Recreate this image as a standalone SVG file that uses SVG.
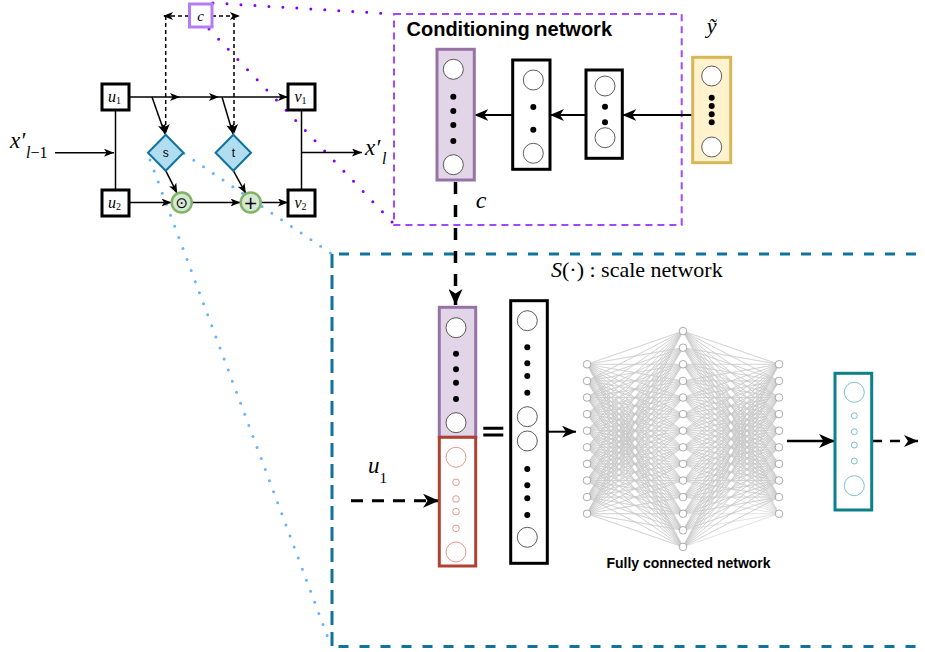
<svg xmlns="http://www.w3.org/2000/svg" width="925" height="652" viewBox="0 0 925 652">
<defs>
<marker id="a1" markerUnits="userSpaceOnUse" viewBox="0 0 10 8" markerWidth="10" markerHeight="8" refX="10" refY="4" orient="auto"><path d="M0 0L10 4L0 8L2.5 4z" fill="#000"/></marker>
<marker id="a2" markerUnits="userSpaceOnUse" viewBox="0 0 14 12" markerWidth="14" markerHeight="12" refX="14" refY="6" orient="auto"><path d="M0 0L14 6L0 12L4 6z" fill="#000"/></marker>
<marker id="a3" markerUnits="userSpaceOnUse" viewBox="0 0 16 14" markerWidth="16" markerHeight="14" refX="16" refY="7" orient="auto"><path d="M0 0L16 7L0 14L4.5 7z" fill="#000"/></marker>
<circle id="fn" r="3.8" fill="#fff" stroke="#8a8a8a" stroke-width="0.7"/>
</defs>
<style>
.box{fill:#fff;stroke:#000;stroke-width:3}
.ln{fill:none;stroke:#000;stroke-width:1.5}
.dl{fill:none;stroke:#000;stroke-width:1.5;stroke-dasharray:4 3}
.m{font-family:"Liberation Serif","DejaVu Serif",serif;font-style:italic}
.r{font-family:"Liberation Serif","DejaVu Serif",serif}
.b{font-family:"Liberation Sans",Arial,sans-serif;font-weight:bold}
.sn{font-family:"Liberation Sans",Arial,sans-serif;font-weight:normal}
.nc{fill:#fff;stroke:#333;stroke-width:0.8}
.dot{fill:#000}
.pd{fill:none;stroke:#7f00ff;stroke-width:3;stroke-linecap:round;stroke-dasharray:0 14}
.bd{fill:none;stroke:#66b2ff;stroke-width:3;stroke-linecap:round;stroke-dasharray:0 11.8}
.ar{fill:none;stroke:#000;stroke-width:2}
</style>
<rect width="925" height="652" fill="#fff"/>

<!-- scale network frame -->
<g id="scale-network-frame">
<path d="M332 940V254H935M332 254V646.5H935" fill="none" stroke="#10739e" stroke-width="3" stroke-dasharray="10 11"/>
<text x="551" y="277" class="r" font-size="22"><tspan font-style="italic">S</tspan>(·) : scale network</text>
</g>

<!-- conditioning network frame -->
<g id="conditioning-network-frame">
<rect x="394" y="14" width="287.7" height="211" fill="none" stroke="#a347ff" stroke-width="2" stroke-dasharray="7 5"/>
<text x="406.5" y="36" class="b" font-size="20">Conditioning network</text>
</g>

<!-- zoom guide lines -->
<g id="guides">
<path class="bd" d="M150 160L331 646"/>
<path class="bd" d="M184 153.5L332 254"/>
<path class="pd" d="M213 3L394 14"/>
<path class="pd" d="M209 29L394 224"/>
</g>

<!-- connectors -->
<g id="connectors">
<path class="ln" d="M55 152.7H114" marker-end="url(#a1)"/>
<path class="ln" d="M115.5 110V190"/>
<path class="ln" d="M301.5 110V190"/>
<path class="ln" d="M301.5 152.5H362" marker-end="url(#a1)"/>
<path class="ln" d="M129 97H180" marker-end="url(#a1)"/>
<path class="ln" d="M180 97H219" marker-end="url(#a1)"/>
<path class="ln" d="M219 97H288" marker-end="url(#a1)"/>
<path class="ln" d="M152 97L165 134" marker-end="url(#a1)"/>
<path class="ln" d="M222 97L233 134" marker-end="url(#a1)"/>
<path class="dl" d="M189 16H163" marker-end="url(#a1)"/>
<path class="dl" d="M212 16H240" marker-end="url(#a1)"/>
<path class="dl" d="M165.7 16V134" marker-end="url(#a1)"/>
<path class="dl" d="M234 16V134" marker-end="url(#a1)"/>
<path class="ln" d="M165.7 170.7L177.2 193.4" marker-end="url(#a1)"/>
<path class="ln" d="M233.3 170.7L245.9 193.5" marker-end="url(#a1)"/>
<path class="ln" d="M129 202.5H171.5" marker-end="url(#a1)"/>
<path class="ln" d="M191.7 202.5H240.5" marker-end="url(#a1)"/>
<path class="ln" d="M260.7 202.5H288" marker-end="url(#a1)"/>
<path class="ar" d="M692.7 115H622.3" marker-end="url(#a2)"/>
<path class="ar" d="M586 115H550" marker-end="url(#a2)"/>
<path class="ar" d="M512.7 115H474.3" marker-end="url(#a2)"/>
<path d="M455.5 182V305" fill="none" stroke="#000" stroke-width="3.5" stroke-dasharray="12 11" marker-end="url(#a3)"/>
<path d="M351 500.7H439" fill="none" stroke="#000" stroke-width="3" stroke-dasharray="12 9" marker-end="url(#a3)"/>
<path class="ar" d="M547.3 431.7H576" marker-end="url(#a2)"/>
<path d="M787 441H835" fill="none" stroke="#000" stroke-width="2.5" marker-end="url(#a3)"/>
<path d="M872 441H918" fill="none" stroke="#000" stroke-width="2.5" stroke-dasharray="10 8" marker-end="url(#a2)"/>
</g>

<!-- coupling block nodes -->
<g id="c-box">
<rect x="189.5" y="4" width="22.5" height="23" fill="#fff" stroke="#b57cf7" stroke-width="3"/>
<text x="200.7" y="20.5" class="m" font-size="15" text-anchor="middle">c</text>
</g>
<g id="u1">
<rect class="box" x="102" y="84" width="27" height="26"/>
<text x="114.5" y="101.5" class="m" font-size="16" text-anchor="middle">u<tspan font-style="normal" font-size="10" dy="2">1</tspan></text>
</g>
<g id="u2">
<rect class="box" x="102" y="190" width="27" height="26"/>
<text x="114.5" y="207.5" class="m" font-size="16" text-anchor="middle">u<tspan font-style="normal" font-size="10" dy="2">2</tspan></text>
</g>
<g id="v1">
<rect class="box" x="288" y="84" width="27" height="26"/>
<text x="300.5" y="101.5" class="m" font-size="16" text-anchor="middle">v<tspan font-style="normal" font-size="10" dy="2">1</tspan></text>
</g>
<g id="v2">
<rect class="box" x="288" y="190" width="27" height="26"/>
<text x="300.5" y="207.5" class="m" font-size="16" text-anchor="middle">v<tspan font-style="normal" font-size="10" dy="2">2</tspan></text>
</g>
<g id="s">
<path d="M165.7 134.7L183.4 152.7L165.7 170.7L148 152.7z" fill="#b1ddf0" stroke="#10739e" stroke-width="2"/>
<text x="165.7" y="157" class="sn" font-size="12" text-anchor="middle">s</text>
</g>
<g id="t">
<path d="M233.3 134.7L251 152.7L233.3 170.7L215.6 152.7z" fill="#b1ddf0" stroke="#10739e" stroke-width="2"/>
<text x="233.3" y="157" class="sn" font-size="12" text-anchor="middle">t</text>
</g>
<g id="odot">
<circle cx="181.7" cy="202.5" r="10" fill="#d5e8d4" stroke="#82b366" stroke-width="2.5"/>
<text x="181.7" y="208" font-family="DejaVu Sans,sans-serif" font-size="15" text-anchor="middle">⊙</text>
</g>
<g id="oplus">
<circle cx="250.7" cy="202.5" r="10" fill="#d5e8d4" stroke="#82b366" stroke-width="2.5"/>
<text x="250.7" y="208.5" font-family="DejaVu Sans,sans-serif" font-size="17" text-anchor="middle">+</text>
</g>
<g id="x-in">
<text x="10" y="148" class="m" font-size="23">x′</text>
<text x="26" y="158" class="m" font-size="16">l<tspan font-style="normal">−1</tspan></text>
</g>
<g id="x-out">
<text x="365" y="155" class="m" font-size="23">x′</text>
<text x="382" y="164" class="m" font-size="16">l</text>
</g>

<!-- conditioning network columns -->
<g id="cond-c">
<rect x="437" y="49.3" width="37.3" height="130.7" fill="#e1d5e7" stroke="#9673a6" stroke-width="3"/>
<circle class="nc" cx="453.3" cy="69.3" r="10"/>
<circle class="nc" cx="453.3" cy="164.7" r="10"/>
<circle class="dot" cx="453.3" cy="96.7" r="3"/>
<circle class="dot" cx="453.3" cy="111" r="3"/>
<circle class="dot" cx="453.3" cy="125" r="3"/>
<circle class="dot" cx="453.3" cy="141" r="3"/>
</g>
<g id="cond-h2">
<rect class="box" x="512.7" y="60" width="37.3" height="109.3"/>
<circle class="nc" cx="533.3" cy="80" r="10"/>
<circle class="nc" cx="533.3" cy="153.3" r="10"/>
<circle class="dot" cx="533.3" cy="107" r="3"/>
<circle class="dot" cx="533.3" cy="129.7" r="3"/>
</g>
<g id="cond-h1">
<rect class="box" x="586" y="70" width="36.3" height="88.3"/>
<circle class="nc" cx="605" cy="86" r="10"/>
<circle class="nc" cx="605" cy="137.7" r="10"/>
<circle class="dot" cx="605" cy="106.7" r="3"/>
<circle class="dot" cx="605" cy="122.3" r="3"/>
</g>
<g id="y-tilde">
<rect x="692.7" y="57.3" width="38" height="105.4" fill="#fff2cc" stroke="#d6b656" stroke-width="3"/>
<circle class="nc" cx="711.7" cy="76" r="10"/>
<circle class="nc" cx="711.7" cy="147" r="10"/>
<circle class="dot" cx="711.7" cy="97.7" r="3"/>
<circle class="dot" cx="711.7" cy="106" r="3"/>
<circle class="dot" cx="711.7" cy="114.3" r="3"/>
<circle class="dot" cx="711.7" cy="122.3" r="3"/>
<text x="711.7" y="33" class="m" font-size="22" text-anchor="middle">ỹ</text>
</g>
<text x="481" y="208" class="m" font-size="24" text-anchor="middle">c</text>

<!-- scale network -->
<g id="input-c">
<rect x="439.3" y="307.3" width="36.4" height="130" fill="#e1d5e7" stroke="#9673a6" stroke-width="3"/>
<circle class="nc" cx="456" cy="327.7" r="10"/>
<circle class="nc" cx="456" cy="422.7" r="10"/>
<circle class="dot" cx="456" cy="353.7" r="3"/>
<circle class="dot" cx="456" cy="369.3" r="3"/>
<circle class="dot" cx="456" cy="382.7" r="3"/>
<circle class="dot" cx="456" cy="399" r="3"/>
</g>
<g id="input-u1">
<rect x="439.3" y="437.3" width="36.4" height="128.7" fill="#fff" stroke="#ae4132" stroke-width="3"/>
<g fill="#fff" stroke="#e07b6e" stroke-width="0.8">
<circle cx="456" cy="457.3" r="10"/>
<circle cx="456" cy="482.3" r="3.3"/>
<circle cx="456" cy="499" r="3.3"/>
<circle cx="456" cy="511.7" r="3.3"/>
<circle cx="456" cy="528.3" r="3.3"/>
<circle cx="456" cy="552" r="10"/>
</g>
<text x="368" y="473" class="m" font-size="23">u<tspan font-style="normal" font-size="15" dy="10">1</tspan></text>
</g>
<g id="equals">
<path d="M483.3 428.3H503.3M483.3 435H503.3" stroke="#000" stroke-width="3"/>
</g>
<g id="concat">
<rect class="box" x="510.7" y="300.7" width="36.6" height="262.6"/>
<circle class="nc" cx="527.3" cy="320.7" r="10"/>
<circle class="nc" cx="527.3" cy="416.7" r="10"/>
<circle class="nc" cx="527.3" cy="441" r="10"/>
<circle class="nc" cx="527.3" cy="537.3" r="10"/>
<circle class="dot" cx="527.3" cy="347.3" r="3"/>
<circle class="dot" cx="527.3" cy="363.3" r="3"/>
<circle class="dot" cx="527.3" cy="376" r="3"/>
<circle class="dot" cx="527.3" cy="392.7" r="3"/>
<circle class="dot" cx="527.3" cy="469" r="3"/>
<circle class="dot" cx="527.3" cy="485.3" r="3"/>
<circle class="dot" cx="527.3" cy="498.3" r="3"/>
<circle class="dot" cx="527.3" cy="515" r="3"/>
</g>
<g id="fc-network">
<g transform="translate(587 331.1) scale(1 16.6)">
<path fill="none" stroke="#c6c6c6" stroke-width="0.5" vector-effect="non-scaling-stroke" stroke-linejoin="round" d="
M96 0L0 2 96 0 0 3 96 0 0 4 96 0 0 5 96 0 0 6 96 0 0 7 96 0 0 8 96 0 0 9 96 0 0 10 96 0 0 11 96 0 192 2 96 0 192 3 96 0 192 4 96 0 192 5 96 0 192 6 96 0 192 7 96 0 192 8 96 0 192 9 96 0 192 10 96 0 192 11
M96 1L0 2 96 1 0 3 96 1 0 4 96 1 0 5 96 1 0 6 96 1 0 7 96 1 0 8 96 1 0 9 96 1 0 10 96 1 0 11 96 1 192 2 96 1 192 3 96 1 192 4 96 1 192 5 96 1 192 6 96 1 192 7 96 1 192 8 96 1 192 9 96 1 192 10 96 1 192 11
M96 2L0 2 96 2 0 3 96 2 0 4 96 2 0 5 96 2 0 6 96 2 0 7 96 2 0 8 96 2 0 9 96 2 0 10 96 2 0 11 96 2 192 2 96 2 192 3 96 2 192 4 96 2 192 5 96 2 192 6 96 2 192 7 96 2 192 8 96 2 192 9 96 2 192 10 96 2 192 11
M96 3L0 2 96 3 0 3 96 3 0 4 96 3 0 5 96 3 0 6 96 3 0 7 96 3 0 8 96 3 0 9 96 3 0 10 96 3 0 11 96 3 192 2 96 3 192 3 96 3 192 4 96 3 192 5 96 3 192 6 96 3 192 7 96 3 192 8 96 3 192 9 96 3 192 10 96 3 192 11
M96 4L0 2 96 4 0 3 96 4 0 4 96 4 0 5 96 4 0 6 96 4 0 7 96 4 0 8 96 4 0 9 96 4 0 10 96 4 0 11 96 4 192 2 96 4 192 3 96 4 192 4 96 4 192 5 96 4 192 6 96 4 192 7 96 4 192 8 96 4 192 9 96 4 192 10 96 4 192 11
M96 5L0 2 96 5 0 3 96 5 0 4 96 5 0 5 96 5 0 6 96 5 0 7 96 5 0 8 96 5 0 9 96 5 0 10 96 5 0 11 96 5 192 2 96 5 192 3 96 5 192 4 96 5 192 5 96 5 192 6 96 5 192 7 96 5 192 8 96 5 192 9 96 5 192 10 96 5 192 11
M96 6L0 2 96 6 0 3 96 6 0 4 96 6 0 5 96 6 0 6 96 6 0 7 96 6 0 8 96 6 0 9 96 6 0 10 96 6 0 11 96 6 192 2 96 6 192 3 96 6 192 4 96 6 192 5 96 6 192 6 96 6 192 7 96 6 192 8 96 6 192 9 96 6 192 10 96 6 192 11
M96 7L0 2 96 7 0 3 96 7 0 4 96 7 0 5 96 7 0 6 96 7 0 7 96 7 0 8 96 7 0 9 96 7 0 10 96 7 0 11 96 7 192 2 96 7 192 3 96 7 192 4 96 7 192 5 96 7 192 6 96 7 192 7 96 7 192 8 96 7 192 9 96 7 192 10 96 7 192 11
M96 8L0 2 96 8 0 3 96 8 0 4 96 8 0 5 96 8 0 6 96 8 0 7 96 8 0 8 96 8 0 9 96 8 0 10 96 8 0 11 96 8 192 2 96 8 192 3 96 8 192 4 96 8 192 5 96 8 192 6 96 8 192 7 96 8 192 8 96 8 192 9 96 8 192 10 96 8 192 11
M96 9L0 2 96 9 0 3 96 9 0 4 96 9 0 5 96 9 0 6 96 9 0 7 96 9 0 8 96 9 0 9 96 9 0 10 96 9 0 11 96 9 192 2 96 9 192 3 96 9 192 4 96 9 192 5 96 9 192 6 96 9 192 7 96 9 192 8 96 9 192 9 96 9 192 10 96 9 192 11
M96 10L0 2 96 10 0 3 96 10 0 4 96 10 0 5 96 10 0 6 96 10 0 7 96 10 0 8 96 10 0 9 96 10 0 10 96 10 0 11 96 10 192 2 96 10 192 3 96 10 192 4 96 10 192 5 96 10 192 6 96 10 192 7 96 10 192 8 96 10 192 9 96 10 192 10 96 10 192 11
M96 11L0 2 96 11 0 3 96 11 0 4 96 11 0 5 96 11 0 6 96 11 0 7 96 11 0 8 96 11 0 9 96 11 0 10 96 11 0 11 96 11 192 2 96 11 192 3 96 11 192 4 96 11 192 5 96 11 192 6 96 11 192 7 96 11 192 8 96 11 192 9 96 11 192 10 96 11 192 11
M96 12L0 2 96 12 0 3 96 12 0 4 96 12 0 5 96 12 0 6 96 12 0 7 96 12 0 8 96 12 0 9 96 12 0 10 96 12 0 11 96 12 192 2 96 12 192 3 96 12 192 4 96 12 192 5 96 12 192 6 96 12 192 7 96 12 192 8 96 12 192 9 96 12 192 10 96 12 192 11
M96 13L0 2 96 13 0 3 96 13 0 4 96 13 0 5 96 13 0 6 96 13 0 7 96 13 0 8 96 13 0 9 96 13 0 10 96 13 0 11 96 13 192 2 96 13 192 3 96 13 192 4 96 13 192 5 96 13 192 6 96 13 192 7 96 13 192 8 96 13 192 9 96 13 192 10 96 13 192 11"/>
</g>
<use href="#fn" x="587" y="364.3"/><use href="#fn" x="587" y="380.9"/><use href="#fn" x="587" y="397.5"/><use href="#fn" x="587" y="414.1"/><use href="#fn" x="587" y="430.7"/><use href="#fn" x="587" y="447.3"/><use href="#fn" x="587" y="463.9"/><use href="#fn" x="587" y="480.5"/><use href="#fn" x="587" y="497.1"/><use href="#fn" x="587" y="513.7"/>
<use href="#fn" x="683" y="331.1"/><use href="#fn" x="683" y="347.7"/><use href="#fn" x="683" y="364.3"/><use href="#fn" x="683" y="380.9"/><use href="#fn" x="683" y="397.5"/><use href="#fn" x="683" y="414.1"/><use href="#fn" x="683" y="430.7"/><use href="#fn" x="683" y="447.3"/><use href="#fn" x="683" y="463.9"/><use href="#fn" x="683" y="480.5"/><use href="#fn" x="683" y="497.1"/><use href="#fn" x="683" y="513.7"/><use href="#fn" x="683" y="530.3"/><use href="#fn" x="683" y="546.9"/>
<use href="#fn" x="779" y="364.3"/><use href="#fn" x="779" y="380.9"/><use href="#fn" x="779" y="397.5"/><use href="#fn" x="779" y="414.1"/><use href="#fn" x="779" y="430.7"/><use href="#fn" x="779" y="447.3"/><use href="#fn" x="779" y="463.9"/><use href="#fn" x="779" y="480.5"/><use href="#fn" x="779" y="497.1"/><use href="#fn" x="779" y="513.7"/>
<text x="688.5" y="568" class="b" font-size="14" text-anchor="middle">Fully connected network</text>
</g>
<g id="output-s">
<rect x="835" y="373.3" width="36.7" height="136.7" fill="#fff" stroke="#0e8088" stroke-width="3"/>
<g fill="#fff" stroke="#5ab4bc" stroke-width="0.8">
<circle cx="854.3" cy="392.3" r="10"/>
<circle cx="854.3" cy="415.7" r="3"/>
<circle cx="854.3" cy="431.7" r="3"/>
<circle cx="854.3" cy="445" r="3"/>
<circle cx="854.3" cy="461" r="3"/>
<circle cx="854.3" cy="485.7" r="10"/>
</g>
</g>
</svg>
